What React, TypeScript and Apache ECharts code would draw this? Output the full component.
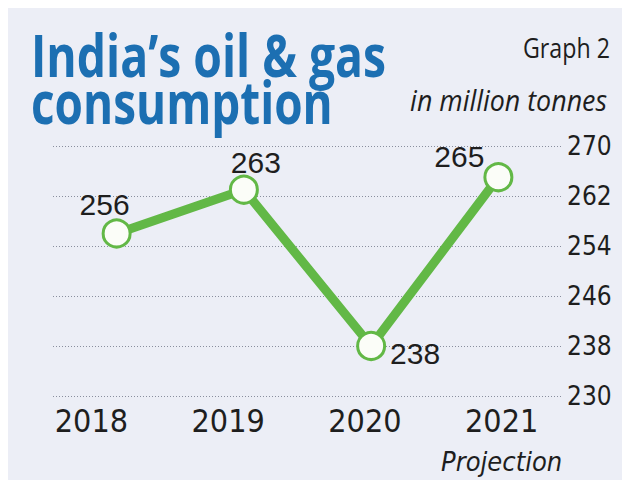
import React, { useEffect, useRef } from "react";
import * as echarts from "echarts";

const years = ["2018", "2019", "2020", "2021"];
const consumption = [256, 263, 238, 265];
const yMin = 230;
const yMax = 270;
const yStep = 8;
const titleLines = ["India\u2019s oil & gas", "consumption"];
const graphTag = "Graph 2";
const unitText = "in million tonnes";
const projectionNote = "Projection";

const COND = '"DejaVu Sans Condensed", "DejaVu Sans", sans-serif';
const OPEN = '"Open Sans", "Noto Sans", sans-serif';
const REGULAR = '"Liberation Sans", Arial, sans-serif';

function fitScale(text: string, font: string, target: number): number {
  const ctx = document.createElement("canvas").getContext("2d");
  if (!ctx) return 1;
  ctx.font = font;
  const w = ctx.measureText(text).width;
  return w > 0 ? target / w : 1;
}

export default function App() {
  const ref = useRef<HTMLDivElement>(null);
  useEffect(() => {
    if (!ref.current) return;
    const chart = echarts.init(ref.current, null, { renderer: "svg" });
    const labelOffsets = [
      [-12, -29],
      [12, -27],
      [44, 7],
      [-39, -21],
    ];
    const titleFont = `bold 59px ${OPEN}`;
    const tagFont = `27px ${OPEN}`;
    const unitFont = `italic 29px ${OPEN}`;
    const s1 = fitScale(titleLines[0], titleFont, 355);
    const s2 = fitScale(titleLines[1], titleFont, 302);
    const s3 = fitScale(graphTag, tagFont, 87);
    const s4 = fitScale(unitText, unitFont, 197);
    const option: any = {
      animation: false,
      backgroundColor: "#ffffff",
      graphic: [
        {
          type: "rect",
          z: -10,
          shape: { x: 8, y: 8, width: 614, height: 472 },
          style: { fill: "#eceef6" },
          silent: true,
        },
        {
          type: "text",
          x: 31,
          y: 54,
          scaleX: s1,
          style: {
            text: titleLines[0],
            font: titleFont,
            fill: "#1c6fb2",
            verticalAlign: "middle",
          },
        },
        {
          type: "text",
          x: 31,
          y: 101,
          scaleX: s2,
          style: {
            text: titleLines[1],
            font: titleFont,
            fill: "#1c6fb2",
            verticalAlign: "middle",
          },
        },
        {
          type: "text",
          x: 610,
          y: 47,
          scaleX: s3,
          style: {
            text: graphTag,
            font: tagFont,
            fill: "#1e1e1e",
            align: "right",
            verticalAlign: "middle",
          },
        },
        {
          type: "text",
          x: 607,
          y: 100,
          scaleX: s4,
          style: {
            text: unitText,
            font: unitFont,
            fill: "#1e1e1e",
            align: "right",
            verticalAlign: "middle",
          },
        },
      ],
      grid: [
        { left: 53, right: 67, top: 146, bottom: 87 },
        { left: 23, right: 59, top: 146, bottom: 87 },
      ],
      xAxis: [
        {
          gridIndex: 0,
          type: "category",
          data: years,
          show: false,
          boundaryGap: true,
        },
        {
          gridIndex: 1,
          type: "category",
          data: years,
          boundaryGap: true,
          axisLine: { show: false },
          axisTick: { show: false },
          axisLabel: {
            interval: 0,
            hideOverlap: false,
            margin: 5,
            fontFamily: COND,
            fontSize: 32,
            color: "#1e1e1e",
            lineHeight: 40,
            formatter: (v: string, i: number) =>
              i === years.length - 1 ? `${v}\n{p|${projectionNote}}` : v,
            rich: {
              p: {
                fontFamily: COND,
                fontStyle: "italic",
                fontSize: 27,
                color: "#1e1e1e",
                lineHeight: 40,
              },
            },
          },
        },
      ],
      yAxis: [
        {
          gridIndex: 0,
          type: "value",
          position: "right",
          min: yMin,
          max: yMax,
          interval: yStep,
          axisLine: { show: false },
          axisTick: { show: false },
          axisLabel: {
            margin: 5,
            fontFamily: COND,
            fontSize: 26,
            color: "#1e1e1e",
          },
          splitLine: {
            show: true,
            lineStyle: { color: "#8a8f9e", type: [1, 2], width: 1 },
          },
        },
        {
          gridIndex: 1,
          type: "value",
          min: yMin,
          max: yMax,
          show: false,
          splitLine: { show: false },
        },
      ],
      series: [
        {
          type: "line",
          xAxisIndex: 0,
          yAxisIndex: 0,
          data: consumption.map((v, i) => ({
            value: v,
            label: { offset: labelOffsets[i] },
          })),
          lineStyle: { color: "#62b846", width: 9 },
          symbol: "circle",
          symbolSize: 27,
          itemStyle: { color: "#fbfdf8", borderColor: "#62b846", borderWidth: 3 },
          label: {
            show: true,
            position: "inside",
            fontFamily: REGULAR,
            fontSize: 30,
            color: "#1e1e1e",
          },
          z: 3,
        },
      ],
    };
    chart.setOption(option);
    return () => chart.dispose();
  }, []);
  return (
    <div
      ref={ref}
      style={{ position: "fixed", left: 0, top: 0, width: 629, height: 483 }}
    />
  );
}
